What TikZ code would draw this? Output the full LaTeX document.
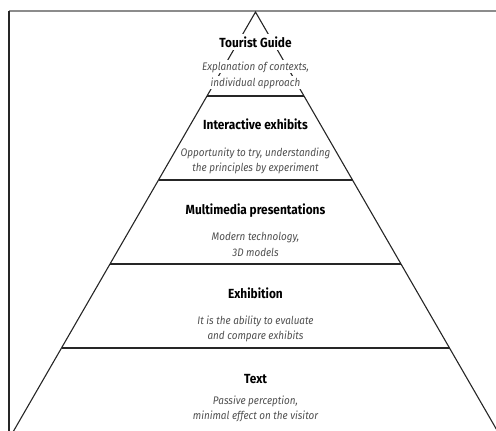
\documentclass[tikz,border=0pt]{standalone}
\usepackage{fontspec}
\setmainfont{Fira Sans}[FakeStretch=0.9]
\usetikzlibrary{calc}
\definecolor{framegray}{HTML}{8C8C8C}
\definecolor{linedark}{HTML}{262626}
\definecolor{descgray}{HTML}{505050}
\tikzset{
  layer title/.style={fill=white, inner sep=2.5pt, anchor=base, text=black,
    font=\bfseries\fontsize{13.2}{15}\selectfont},
  layer text/.style={fill=white, inner sep=1pt, anchor=base, text=descgray,
    font=\itshape\fontsize{11}{13}\selectfont}
}

\begin{document}
\begin{tikzpicture}[x=1pt, y=-1pt, line width=1.1pt]
    \useasboundingbox (0,0) rectangle (496,431);

    % --- Frame ---
    \draw[framegray, line width=2pt] (9,11) -- (496,11);
    \draw[linedark] (9,11) -- (9,431);

    % --- Pyramid ---
    \coordinate (apex) at (255.5,12);
    \coordinate (baseL) at (13,432);
    \coordinate (baseR) at (498,432);
    \draw[linedark] (baseL) -- (apex) -- (baseR);
    \foreach \k in {1,...,4}
        \draw[linedark] ($(apex)!\k/5!(baseL)$) -- ($(apex)!\k/5!(baseR)$);

    % --- Layer labels ---
    \node[layer title] (guide) at (255.5,47) {Tourist Guide};
    \node[layer text] (guideA) at (255.5,70) {Explanation of contexts,};
    \node[layer text] (guideB) at (255.5,86) {individual approach};

    \node[layer title] (interactive) at (255.5,129.5) {Interactive exhibits};
    \node[layer text] (interactiveA) at (255.5,156) {Opportunity to try, understanding};
    \node[layer text] (interactiveB) at (255.5,171) {the principles by experiment};

    \node[layer title] (multimedia) at (255.5,214) {Multimedia presentations};
    \node[layer text] (multimediaA) at (255.5,240) {Modern technology,};
    \node[layer text] (multimediaB) at (255.5,256) {3D models};

    \node[layer title] (exhibition) at (255.5,298) {Exhibition};
    \node[layer text] (exhibitionA) at (255.5,324) {It is the ability to evaluate};
    \node[layer text] (exhibitionB) at (255.5,339) {and compare exhibits};

    \node[layer title] (text) at (255.5,383) {Text};
    \node[layer text] (textA) at (255.5,404) {Passive perception,};
    \node[layer text] (textB) at (255.5,419) {minimal effect on the visitor};

\end{tikzpicture}
\end{document}
